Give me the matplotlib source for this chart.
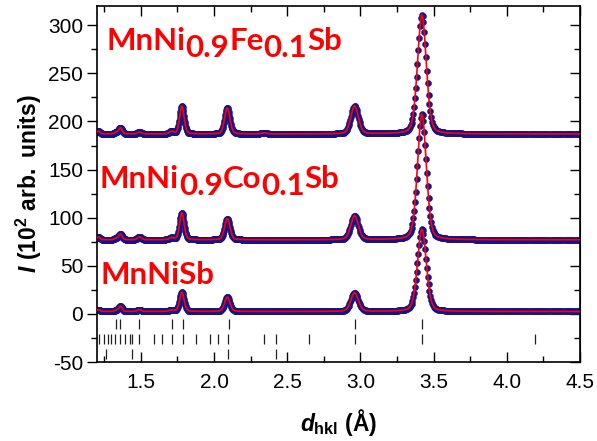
import numpy as np
import matplotlib
matplotlib.use('Agg')
import matplotlib.pyplot as plt
from matplotlib.ticker import MultipleLocator

plt.rcParams['font.family'] = ['Liberation Sans', 'DejaVu Sans']
plt.rcParams['mathtext.fontset'] = 'custom'
plt.rcParams['mathtext.rm'] = 'Liberation Sans:bold'
plt.rcParams['mathtext.it'] = 'Liberation Sans:italic:bold'
plt.rcParams['mathtext.bf'] = 'Liberation Sans:bold'
plt.rcParams['axes.unicode_minus'] = False

# ---------------- data ----------------
peak_pos = [1.21, 1.33, 1.36, 1.49, 1.71, 1.78, 2.09, 2.34, 2.96, 3.42]
mnnisb_heights = [2.0, 1.0, 5.5, 2.0, 1.5, 20.0, 15.0, 0.0, 19.5, 85.5]
co_heights = [3.0, 1.5, 6.0, 3.0, 2.0, 28.0, 22.0, 0.0, 25.0, 131.0]
fe_heights = [3.0, 1.5, 6.5, 2.0, 2.5, 29.0, 27.0, 1.0, 29.0, 124.0]
baselines = {'MnNiSb': 2.5, 'Co': 77.0, 'Fe': 187.0}

bragg_row1 = [1.33, 1.36, 1.49, 1.71, 1.79, 2.10, 2.96, 3.42]
bragg_row2 = [1.216, 1.25, 1.272, 1.296, 1.325, 1.359, 1.394, 1.428, 1.441, 1.489,
              1.587, 1.647, 1.713, 1.788, 1.879, 1.975, 2.025, 2.096, 2.34, 2.42,
              2.65, 2.962, 3.423, 4.191]
bragg_row3 = [1.264, 1.439, 2.096, 2.42]

xticks = [1.5, 2.0, 2.5, 3.0, 3.5, 4.0, 4.5]
yticks = [-50, 0, 50, 100, 150, 200, 250, 300]

# ---------------- helpers ----------------
d = np.geomspace(1.2, 4.5, 780)


def pattern(base, heights):
    y = np.full_like(d, base)
    for p, h in zip(peak_pos, heights):
        fw = 0.0205 * p
        u = (d - p) / fw
        g = np.exp(-4 * np.log(2) * u ** 2)
        lor = 1.0 / (1.0 + 4 * u ** 2)
        y += h * (0.75 * g + 0.25 * lor)
    return y


fig = plt.figure(figsize=(5.97, 4.41), dpi=100)
ax = fig.add_axes([97 / 597, 79 / 441, 483 / 597, 356 / 441])

for base, hts in [(baselines['MnNiSb'], mnnisb_heights),
                  (baselines['Co'], co_heights),
                  (baselines['Fe'], fe_heights)]:
    y = pattern(base, hts)
    ax.plot(d, y, 'o', ms=4.4, color='#14148a', mec='#14148a', mew=0.3,
            zorder=2, clip_on=True)
    ax.plot(d, y, '-', color='#ff0000', lw=1.2, zorder=3)

ax.vlines(bragg_row1, -15.5, -5.2, color='#222222', lw=0.9)
ax.vlines(bragg_row2, -31, -20.7, color='#222222', lw=0.9)
ax.vlines(bragg_row3, -46.5, -36, color='#222222', lw=0.9)

ax.set_xlim(1.2, 4.5)
ax.set_ylim(-50, 320)
ax.set_xticks(xticks)
ax.set_yticks(yticks)
ax.xaxis.set_minor_locator(MultipleLocator(0.25))
ax.yaxis.set_minor_locator(MultipleLocator(25))
ax.set_xticklabels(['%.1f' % v for v in xticks])
ax.set_yticklabels(['%d' % v for v in yticks])

ax.tick_params(axis='x', which='both', direction='in', top=True, bottom=True,
               labelsize=15, pad=8)
ax.tick_params(axis='x', which='major', length=7, width=1)
ax.tick_params(axis='x', which='minor', length=4, width=1)
ax.tick_params(axis='y', which='both', direction='out', left=True, right=False,
               labelsize=15, pad=3)
ax.tick_params(axis='y', which='major', length=7, width=1)
ax.tick_params(axis='y', which='minor', length=4, width=1)
for s in ax.spines.values():
    s.set_linewidth(1.2)

# inward right-side ticks
axr = ax.secondary_yaxis('right')
axr.set_yticks(yticks)
axr.yaxis.set_minor_locator(MultipleLocator(25))
axr.tick_params(which='both', direction='in', labelright=False)
axr.tick_params(which='major', length=7, width=1)
axr.tick_params(which='minor', length=4, width=1)

ax.set_ylabel(r'$I\ \mathrm{(10^{2}\ arb.\ units)}$', fontsize=16.5, labelpad=3)
ax.set_xlabel(r'$d_{\mathrm{hkl}}\ \mathrm{(Å)}$', fontsize=16.5, labelpad=11)


def chem_label(x, y, parts, size=22.5, drop=5.0):
    prev = None
    prev_sub = False
    for txt, sub in parts:
        kw = dict(fontsize=size, color='#ff0000', fontweight='bold', family='Lato')
        if prev is None:
            t = ax.text(x, y, txt, ha='left', va='baseline', **kw)
        else:
            dy = 0
            if sub and not prev_sub:
                dy = -drop
            elif prev_sub and not sub:
                dy = drop
            t = ax.annotate(txt, xy=(1, 0), xycoords=prev, xytext=(0, dy),
                            textcoords='offset points', ha='left', va='bottom', **kw)
        prev = t
        prev_sub = sub


chem_label(1.264, 274, [('MnNi', False), ('0.9', True), ('Fe', False), ('0.1', True), ('Sb', False)])
chem_label(1.218, 131, [('MnNi', False), ('0.9', True), ('Co', False), ('0.1', True), ('Sb', False)])
chem_label(1.223, 31, [('MnNiSb', False)])

fig.savefig('out.png', dpi=100)
